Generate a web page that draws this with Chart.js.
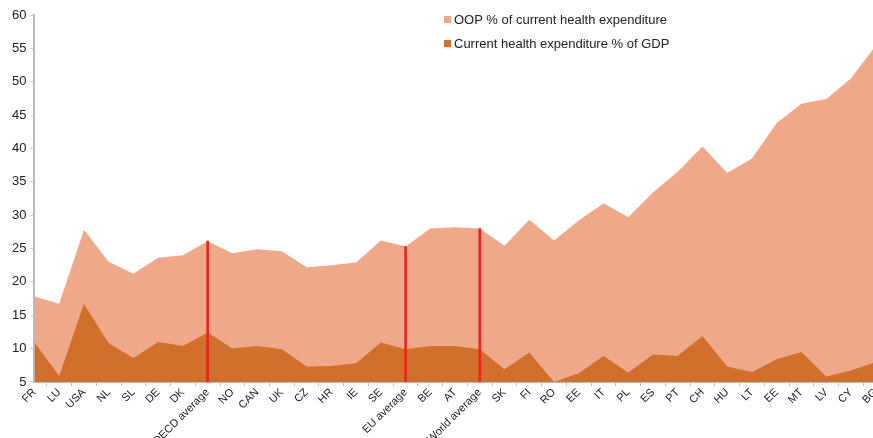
<!DOCTYPE html>
<html>
<head>
<meta charset="utf-8">
<script src="https://cdn.jsdelivr.net/npm/chart.js@4.4.1/dist/chart.umd.min.js"></script>
<style>
  html, body { margin: 0; padding: 0; background: #fff; overflow: hidden; }
  #wrap { position: relative; width: 885px; height: 448px; }
  #legend { position: absolute; left: 444px; top: 12px; font: 13px "Liberation Sans", Arial, sans-serif; color: #222; }
  #legend div { height: 24px; line-height: 16px; }
  #legend span { display: inline-block; width: 7px; height: 7px; margin-right: 3px; vertical-align: 1px; }
</style>
</head>
<body>
<div id="wrap">
  <canvas id="chart"></canvas>
  <div id="legend">
    <div><span style="background:#F0A88A"></span>OOP % of current health expenditure</div>
    <div><span style="background:#D0702C"></span>Current health expenditure % of GDP</div>
  </div>
</div>
<script>
// categories (countries + averages)
const countries = ['FR', 'LU', 'USA', 'NL', 'SL', 'DE', 'DK', 'OECD average', 'NO', 'CAN', 'UK', 'CZ',
  'HR', 'IE', 'SE', 'EU average', 'BE', 'AT', 'World average', 'SK', 'FI', 'RO', 'EE', 'IT', 'PL',
  'ES', 'PT', 'CH', 'HU', 'LT', 'EE', 'MT', 'LV', 'CY', 'BG'];

// OOP % of current health expenditure
const oopShare = [17.8, 16.7, 27.8, 23.0, 21.2, 23.6, 24.0, 26.1, 24.3, 24.9, 24.6, 22.2,
  22.5, 22.9, 26.2, 25.3, 28.0, 28.2, 28.0, 25.4, 29.3, 26.2, 29.2, 31.8, 29.7,
  33.4, 36.5, 40.3, 36.3, 38.5, 43.8, 46.7, 47.4, 50.5, 55.4];

// Current health expenditure % of GDP
const cheGdp = [10.9, 5.9, 16.7, 10.8, 8.6, 11.0, 10.4, 12.4, 10.0, 10.4, 9.9, 7.3,
  7.4, 7.8, 10.9, 9.9, 10.4, 10.4, 9.9, 6.9, 9.4, 5.0, 6.3, 8.9, 6.4,
  9.1, 8.9, 11.9, 7.3, 6.5, 8.4, 9.5, 5.8, 6.7, 8.0];

// the three averages get a red marker line
const averages = ['OECD average', 'EU average', 'World average'];
const yTicks = [5, 10, 15, 20, 25, 30, 35, 40, 45, 50, 55, 60];

const markerData = countries.map((c, i) => averages.includes(c) ? oopShare[i] : null);

const ctx = document.getElementById('chart').getContext('2d');
new Chart(ctx, {
  type: 'line',
  data: {
    labels: countries,
    datasets: [
      {
        type: 'bar',
        label: 'average',
        data: markerData,
        backgroundColor: '#E8261C',
        barThickness: 2
      },
      {
        label: 'Current health expenditure % of GDP',
        data: cheGdp,
        borderWidth: 0,
        borderColor: '#D0702C',
        backgroundColor: '#D0702C',
        fill: 'start',
        pointRadius: 0,
        tension: 0
      },
      {
        label: 'OOP % of current health expenditure',
        data: oopShare,
        borderWidth: 0,
        borderColor: '#F0A88A',
        backgroundColor: '#F0A88A',
        fill: 'start',
        pointRadius: 0,
        tension: 0
      }
    ]
  },
  options: {
    responsive: true,
    maintainAspectRatio: false,
    animation: false,
    layout: { padding: { top: 15, left: 8, right: 0, bottom: 0 } },
    plugins: { legend: { display: false }, tooltip: { enabled: false } },
    scales: {
      x: {
        offset: false,
        grid: { display: true, drawOnChartArea: false, tickLength: 4, color: '#bbb' },
        border: { color: '#bbb', width: 2 },
        ticks: {
          autoSkip: false,
          minRotation: 45,
          maxRotation: 45,
          padding: 0,
          color: '#222',
          font: { family: '"Liberation Sans", Arial, sans-serif', size: 11 }
        }
      },
      y: {
        min: 5,
        max: 60,
        afterBuildTicks: axis => { axis.ticks = yTicks.map(v => ({ value: v })); },
        grid: { display: true, drawOnChartArea: false, tickLength: 4, color: '#ccc' },
        border: { color: '#bbb', width: 2 },
        ticks: {
          padding: 4,
          color: '#222',
          font: { family: '"Liberation Sans", Arial, sans-serif', size: 13 }
        }
      }
    }
  }
});
</script>
</body>
</html>
